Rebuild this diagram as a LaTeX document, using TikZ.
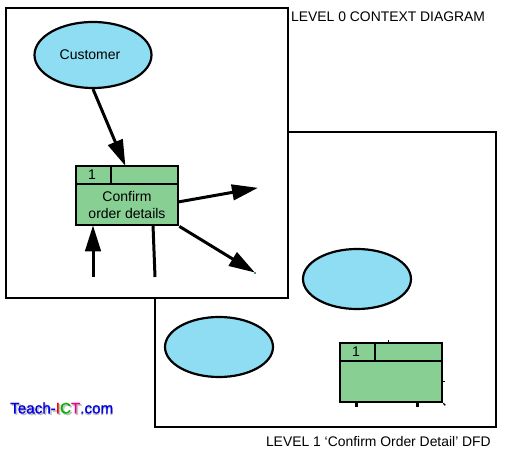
\documentclass[tikz,border=0pt]{standalone}
\usepackage{fontspec}
\setmainfont{Liberation Sans}
\newfontfamily\logofont[FakeBold=1.2]{Liberation Sans}
\newfontfamily\logoshadefont[FakeBold=3.5]{Liberation Sans}
\usetikzlibrary{shapes.geometric, arrows.meta, positioning, calc}
\definecolor{skyfill}{HTML}{8FDDF2}
\definecolor{procfill}{HTML}{87CF93}

\begin{document}
\begin{tikzpicture}[
  x=1pt, y=-1pt,
  frame/.style={draw, line width=2.2pt, fill=white, outer sep=0pt, inner sep=0pt},
  flow/.style={draw, line width=3pt},
  flowtip/.style={flow, -{Triangle[length=26pt,width=15.5pt]}, shorten >=-1pt},
  entity/.style={draw, ellipse, line width=2.2pt, fill=skyfill, minimum width=117pt, minimum height=66pt, inner sep=0pt, font=\fontsize{14}{16}\selectfont},
  cell/.style={draw, line width=2.7pt, fill=procfill, inner sep=0pt, align=center, font=\fontsize{14}{17}\selectfont},
  lbl/.style={font=\fontsize{13.9}{16}\selectfont, inner sep=0pt},
  tick/.style={draw, line width=2.4pt}
]
\useasboundingbox (0,0) rectangle (511,454);

% ---- Level 1 frame ----
\node[frame, minimum width=341pt, minimum height=295pt, anchor=north west] (levelone) at (155,132) {};
\node[entity, minimum width=108pt, minimum height=60pt] (storeb) at (357,279) {};
\node[entity, minimum width=108pt, minimum height=60pt] (storea) at (219,347) {};
\node[cell, minimum width=102pt, minimum height=41pt] (subbody) at (391,381.5) {};
\node[cell, minimum width=35pt, minimum height=18pt] (subnum) at (357.5,352) {1\hspace{3pt}\mbox{}};
\node[cell, minimum width=67pt, minimum height=18pt] (subrest) at (408.5,352) {};

% ---- remains of the cut off flows ----
\draw[tick, line width=1.4pt] (subrest.north) ++(-20,0) -- ++(0,-2);
\draw[tick, line width=1.4pt] (subbody.east) -- ++(2,0);
\draw[tick] (subbody.south west) ++(18,0) -- ++(0,4);
\draw[tick] (subbody.south east) ++(-26,0) -- ++(0,4);
\draw[tick, line width=1.4pt] (subbody.south east) -- ++(2,2);

% ---- Level 0 frame ----
\node[frame, minimum width=282pt, minimum height=290pt, anchor=north west] (levelzero) at (6,8) {};
\node[entity] (customer) at (93,55) {Customer\hspace{6pt}\mbox{}};
\node[cell, minimum width=102pt, minimum height=41pt] (procbody) at (127,204.5) {Confirm\\order details};
\node[cell, minimum width=35pt, minimum height=18pt] (procnum) at (93.5,175) {1\hspace{3pt}\mbox{}};
\node[cell, minimum width=67pt, minimum height=18pt] (procrest) at (144.5,175) {};

% ---- free ends ----
\coordinate (outa) at (257,188);
\coordinate (outb) at (254,272);
\coordinate (ina) at (93,277);
\coordinate (inb) at (155,277);
\coordinate (custin) at (125,165);
\coordinate (outafrom) at (178,202);
\coordinate (inbfrom) at (153,225);

% ---- flows ----
\draw[flowtip] (customer.south) -- (custin);
\draw[flowtip] (outafrom) -- (outa);
\draw[flowtip] (procbody.south east) -- (outb);
\draw[flowtip] (ina) -- (ina |- procbody.south);
\draw[flow] (inbfrom) -- (inb);
\draw[draw=procfill!70!black, line width=1.2pt] (outb) ++(1,0) -- ++(0,2);

% ---- captions ----
\node[lbl, anchor=west] (titlezero) at (291,17) {LEVEL 0 CONTEXT DIAGRAM};
\node[lbl, anchor=east] (titleone) at (491,442) {LEVEL 1 ‘Confirm Order Detail’ DFD};

% ---- logo ----
\node[lbl, anchor=west, font=\logoshadefont\fontsize{15.2}{17}\selectfont, text=gray!60, opacity=0.7] (logoshade) at (11.5,409.5) {Teach-ICT.com};
\node[lbl, anchor=west, font=\logofont\fontsize{15.2}{17}\selectfont, text=blue!90!black] (logo) at (10,408) {Teach-\textcolor{red}{I}\textcolor{green!70!black}{C}\textcolor{magenta}{T}.com};
\end{tikzpicture}
\end{document}
